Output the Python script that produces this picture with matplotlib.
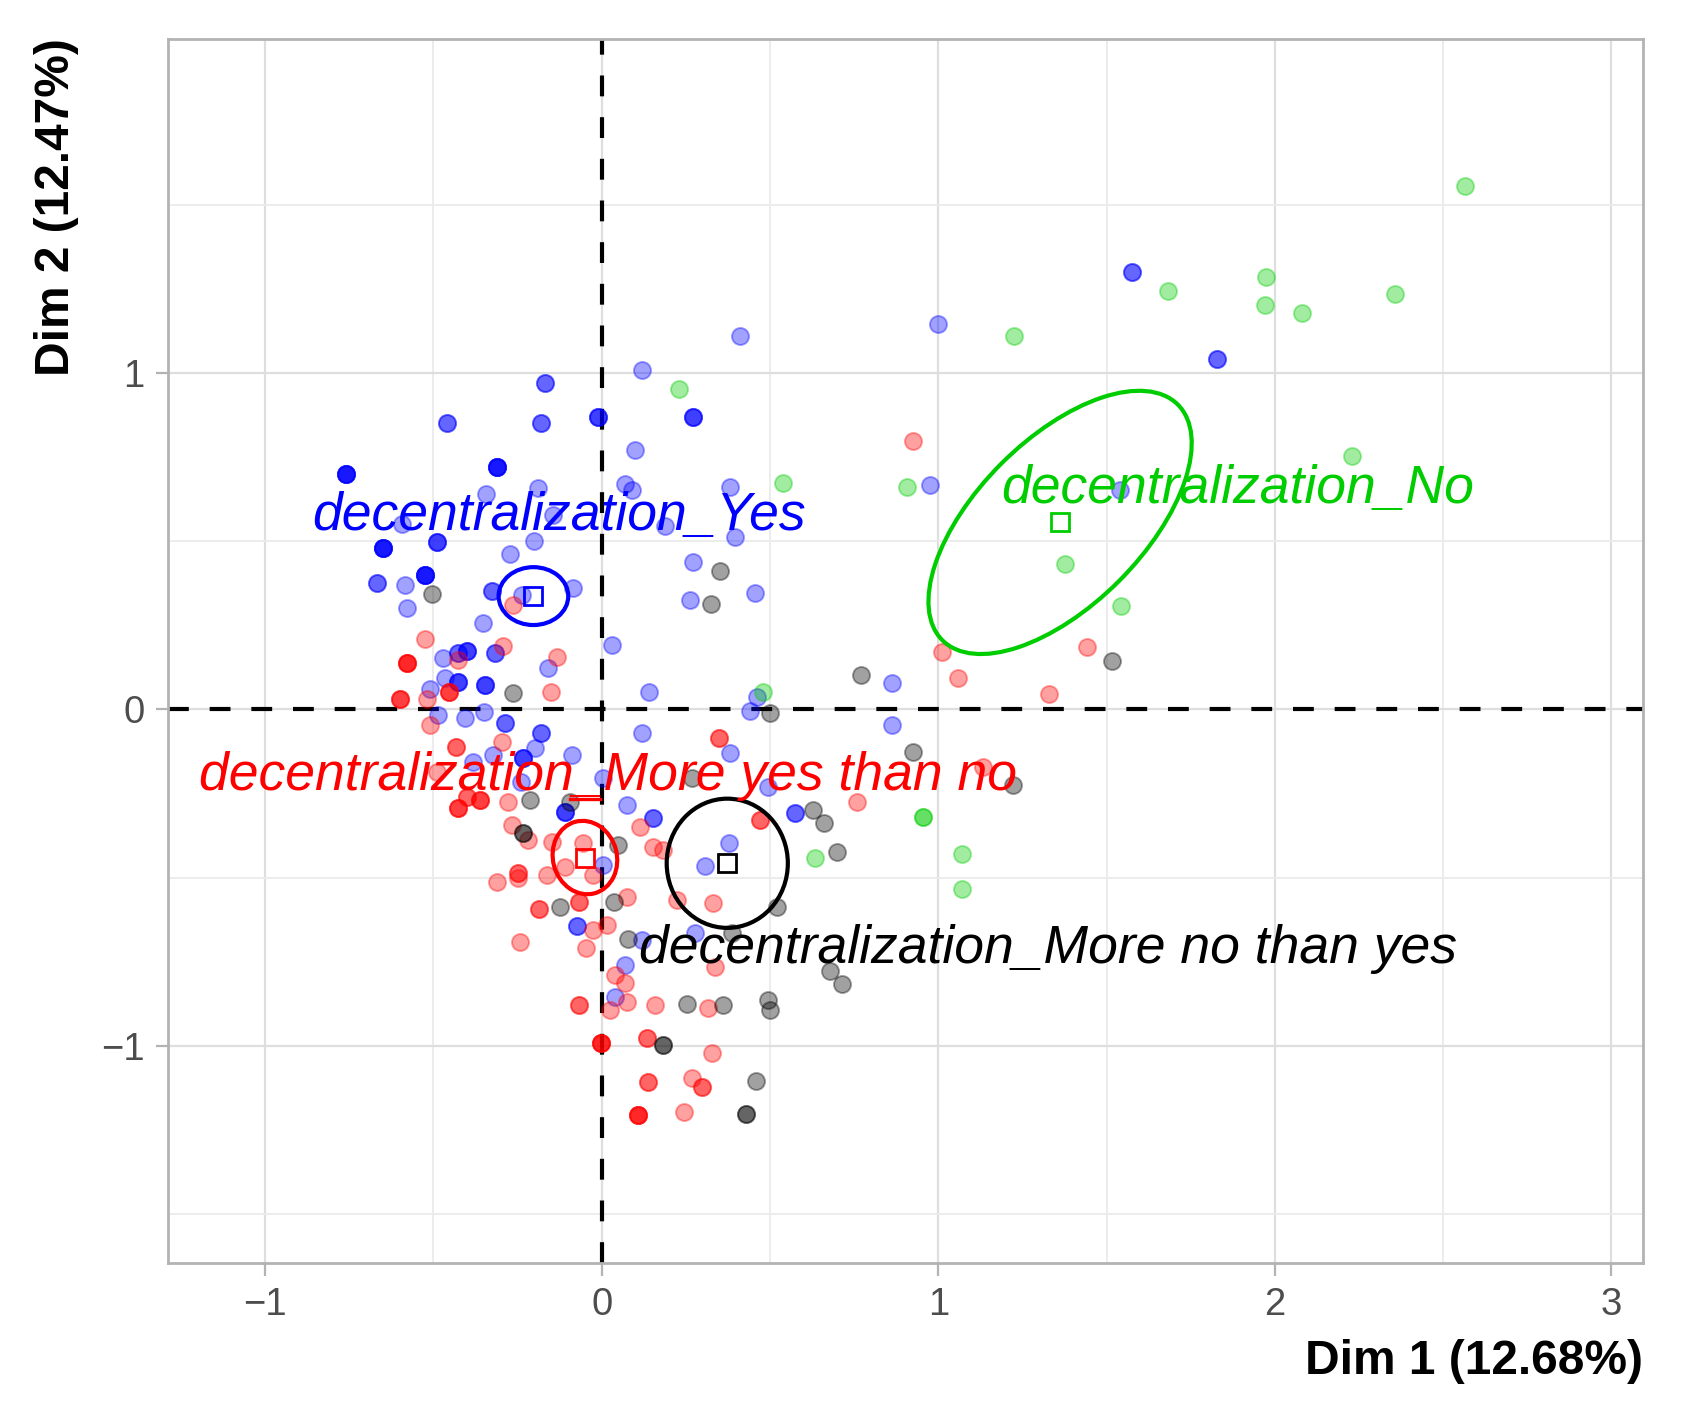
import numpy as np
import matplotlib
matplotlib.use('Agg')
import matplotlib.pyplot as plt
from matplotlib.patches import Ellipse

plt.rcParams['font.family'] = ['Liberation Sans', 'DejaVu Sans']

# individuals, coloured by answer; n = how many individuals share the spot
yes_x = [0.12, -0.17, -0.46, -0.18, -0.01, 0.27, 0.10, -0.76, -0.31, 0.069,
         0.089, -0.188, -0.344, 0.188, 0.380, 0.396, -0.146, -0.593, -0.201, -0.273,
         -0.649, -0.490, -0.525, -0.667, -0.585, -0.578, -0.327, -0.238, -0.086, 0.272,
         0.262, 0.456, -0.354, 0.030, -0.317, -0.401, -0.426, -0.471, -0.159, -0.466,
         -0.426, -0.347, -0.509, 0.139, 0.974, 0.411, 0.998, 1.577, 1.827, 1.540,
         0.862, 0.461, 0.441, 0.862, -0.486, -0.406, -0.349, -0.287, -0.181, -0.198,
         -0.322, -0.233, -0.089, -0.382, -0.239, 0.005, -0.109, 0.005, -0.073, 0.119,
         0.069, 0.040, 0.119, 0.153, 0.074, 0.381, 0.495, 0.574, 0.379, 0.307, 0.276]
yes_y = [1.01, 0.97, 0.85, 0.85, 0.87, 0.87, 0.77, 0.70, 0.72, 0.670,
         0.652, 0.657, 0.640, 0.545, 0.660, 0.512, 0.579, 0.551, 0.500, 0.461,
         0.479, 0.497, 0.400, 0.377, 0.370, 0.303, 0.353, 0.340, 0.360, 0.439,
         0.325, 0.345, 0.256, 0.192, 0.167, 0.175, 0.167, 0.152, 0.122, 0.093,
         0.083, 0.073, 0.060, 0.053, 0.667, 1.11, 1.145, 1.300, 1.041, 0.653,
         0.080, 0.038, -0.005, -0.046, -0.016, -0.026, -0.007, -0.041, -0.071, -0.115,
         -0.135, -0.145, -0.135, -0.155, -0.215, -0.205, -0.304, -0.462, -0.643, -0.685,
         -0.759, -0.853, -0.071, -0.323, -0.284, -0.130, -0.229, -0.309, -0.398, -0.465, -0.664]
yes_n = [1, 2, 2, 2, 3, 3, 1, 5, 5, 1,
         1, 1, 1, 1, 1, 1, 1, 1, 1, 1,
         5, 3, 5, 2, 1, 1, 2, 1, 1, 1,
         1, 1, 1, 1, 2, 3, 2, 1, 1, 1,
         3, 3, 1, 1, 1, 1, 1, 2, 2, 1,
         1, 1, 1, 1, 1, 1, 1, 2, 2, 1,
         1, 3, 1, 1, 1, 1, 3, 1, 2, 1,
         1, 1, 1, 2, 1, 1, 1, 2, 1, 1, 1]

no_x = [2.564, 1.684, 1.975, 1.972, 2.082, 2.358, 1.226, 2.229, 1.378, 1.543,
        0.230, 0.540, 0.906, 0.480, 0.956, 0.634, 1.070, 1.070]
no_y = [1.556, 1.243, 1.286, 1.201, 1.178, 1.235, 1.111, 0.754, 0.431, 0.309,
        0.951, 0.672, 0.662, 0.053, -0.319, -0.442, -0.429, -0.534]
no_n = [1, 1, 1, 1, 1, 1, 1, 1, 1, 1,
        1, 1, 1, 1, 2, 1, 1, 1]

myes_x = [0.926, 1.010, 1.060, 1.330, 1.441, -0.264, -0.525, -0.294, -0.426, -0.578,
          -0.132, -0.453, -0.599, -0.520, -0.152, -0.510, -0.297, -0.433, -0.490, -0.426,
          -0.362, -0.401, -0.278, -0.267, -0.218, -0.149, -0.056, -0.109, -0.025, -0.312,
          -0.248, -0.248, -0.163, -0.185, -0.067, 0.074, -0.025, 0.017, -0.243, -0.047,
          0.040, 0.069, 0.074, 0.025, -0.067, 0.158, 0.317, -0.003, 0.134, 0.327,
          0.136, 0.267, 0.297, 0.109, 0.243, 0.347, 1.134, 0.760, 0.470, 0.332,
          0.337, 0.153, 0.183, 0.114, 0.223]
myes_y = [0.797, 0.172, 0.093, 0.046, 0.187, 0.311, 0.209, 0.189, 0.148, 0.137,
          0.155, 0.053, 0.030, 0.030, 0.053, -0.046, -0.096, -0.111, -0.185, -0.294,
          -0.269, -0.259, -0.274, -0.343, -0.388, -0.393, -0.398, -0.467, -0.492, -0.512,
          -0.485, -0.502, -0.492, -0.594, -0.571, -0.556, -0.655, -0.640, -0.690, -0.710,
          -0.789, -0.814, -0.868, -0.893, -0.878, -0.878, -0.888, -0.990, -0.977, -1.022,
          -1.106, -1.096, -1.121, -1.205, -1.195, -0.086, -0.170, -0.274, -0.328, -0.576,
          -0.764, -0.408, -0.418, -0.348, -0.566]
myes_n = [1, 1, 1, 1, 1, 1, 1, 1, 1, 4,
          1, 3, 3, 1, 1, 1, 1, 2, 1, 3,
          3, 2, 1, 1, 1, 1, 1, 1, 1, 1,
          2, 1, 1, 2, 2, 1, 1, 1, 1, 1,
          1, 1, 1, 1, 2, 1, 1, 4, 2, 1,
          2, 1, 2, 4, 1, 2, 1, 1, 2, 1,
          1, 1, 1, 1, 1]

mno_x = [-0.505, 0.352, 0.324, -0.264, 0.771, 1.516, 0.500, -0.213, -0.094, -0.233,
         0.049, -0.124, 0.035, 0.079, 0.254, 0.181, 0.926, 1.221, 0.629, 0.661,
         0.698, 0.520, 0.386, 0.678, 0.713, 0.361, 0.495, 0.500, 0.458, 0.429, 0.267]
mno_y = [0.343, 0.413, 0.313, 0.048, 0.103, 0.145, -0.011, -0.269, -0.274, -0.368,
         -0.403, -0.586, -0.571, -0.683, -0.875, -0.997, -0.125, -0.224, -0.299, -0.336,
         -0.423, -0.586, -0.665, -0.776, -0.816, -0.878, -0.863, -0.893, -1.103, -1.203, -0.205]
mno_n = [1, 1, 1, 1, 1, 1, 1, 1, 1, 2,
         1, 1, 1, 1, 1, 2, 1, 1, 1, 1,
         1, 1, 1, 1, 1, 1, 1, 1, 1, 2, 1]

# category centres and confidence ellipses
cat_names = ['decentralization_Yes', 'decentralization_No',
             'decentralization_More yes than no', 'decentralization_More no than yes']
cat_x = [-0.203, 1.362, -0.050, 0.373]
cat_y = [0.337, 0.556, -0.440, -0.457]
ell_w = [0.207, 0.99, 0.22, 0.36]
ell_h = [0.172, 0.494, 0.19, 0.384]
ell_angle = [0, 45, 105, 0]
label_x = [-0.126, 1.889, 0.019, 1.325]
label_y = [0.533, 0.613, -0.240, -0.754]

colors = ['#0000FF', '#00CD00', '#FF0000', '#000000']

fig = plt.figure(figsize=(16.83, 14.22), dpi=100)
ax = fig.add_axes([0.0998, 0.1118, 0.8764, 0.8611])

ax.set_xlim(-1.289, 3.094)
ax.set_ylim(-1.645, 1.994)
ax.set_xticks([-1, 0, 1, 2, 3])
ax.set_yticks([-1, 0, 1])
ax.set_xticks([-0.5, 0.5, 1.5, 2.5], minor=True)
ax.set_yticks([-1.5, -0.5, 0.5, 1.5], minor=True)
ax.grid(which='major', color='#DEDEDE', lw=1.6)
ax.grid(which='minor', color='#EBEBEB', lw=1.3)
ax.set_axisbelow(True)
ax.tick_params(which='major', length=9, width=1.6, color='#B3B3B3',
               labelsize=27.5, labelcolor='#4D4D4D', pad=8)
ax.tick_params(which='minor', length=0)
for s in ax.spines.values():
    s.set_color('#B3B3B3')
    s.set_linewidth(2)

ax.axhline(0, color='black', lw=3, ls=(0, (5, 5)), zorder=2)
ax.axvline(0, color='black', lw=3, ls=(0, (5, 5)), zorder=2)

groups = [(yes_x, yes_y, yes_n), (no_x, no_y, no_n),
          (myes_x, myes_y, myes_n), (mno_x, mno_y, mno_n)]
for (gx, gy, gn), col in zip(groups, colors):
    px = np.repeat(gx, gn)
    py = np.repeat(gy, gn)
    ax.scatter(px, py, s=150, color=col, alpha=0.37, edgecolors=col,
               linewidths=1.4, zorder=3)

for i in range(4):
    e = Ellipse((cat_x[i], cat_y[i]), ell_w[i], ell_h[i], angle=ell_angle[i],
                fill=False, edgecolor=colors[i], lw=3, zorder=4)
    ax.add_patch(e)
    ax.plot(cat_x[i], cat_y[i], marker='s', ms=13, mfc='none', mec=colors[i],
            mew=2, zorder=5)
    ax.text(label_x[i], label_y[i], cat_names[i], color=colors[i], fontsize=38.5,
            fontstyle='italic', ha='center', va='baseline', zorder=6)

# repel segment of the red label
ax.plot([-0.094, -0.005], [-0.267, -0.267], color='#FF0000', lw=2.4, zorder=6)

ax.set_xlabel('Dim 1 (12.68%)', fontsize=34.5, fontweight='bold', loc='right', labelpad=12)
ax.set_ylabel('Dim 2 (12.47%)', fontsize=34.5, fontweight='bold', loc='top', labelpad=16)

fig.savefig('out.png', dpi=100)
